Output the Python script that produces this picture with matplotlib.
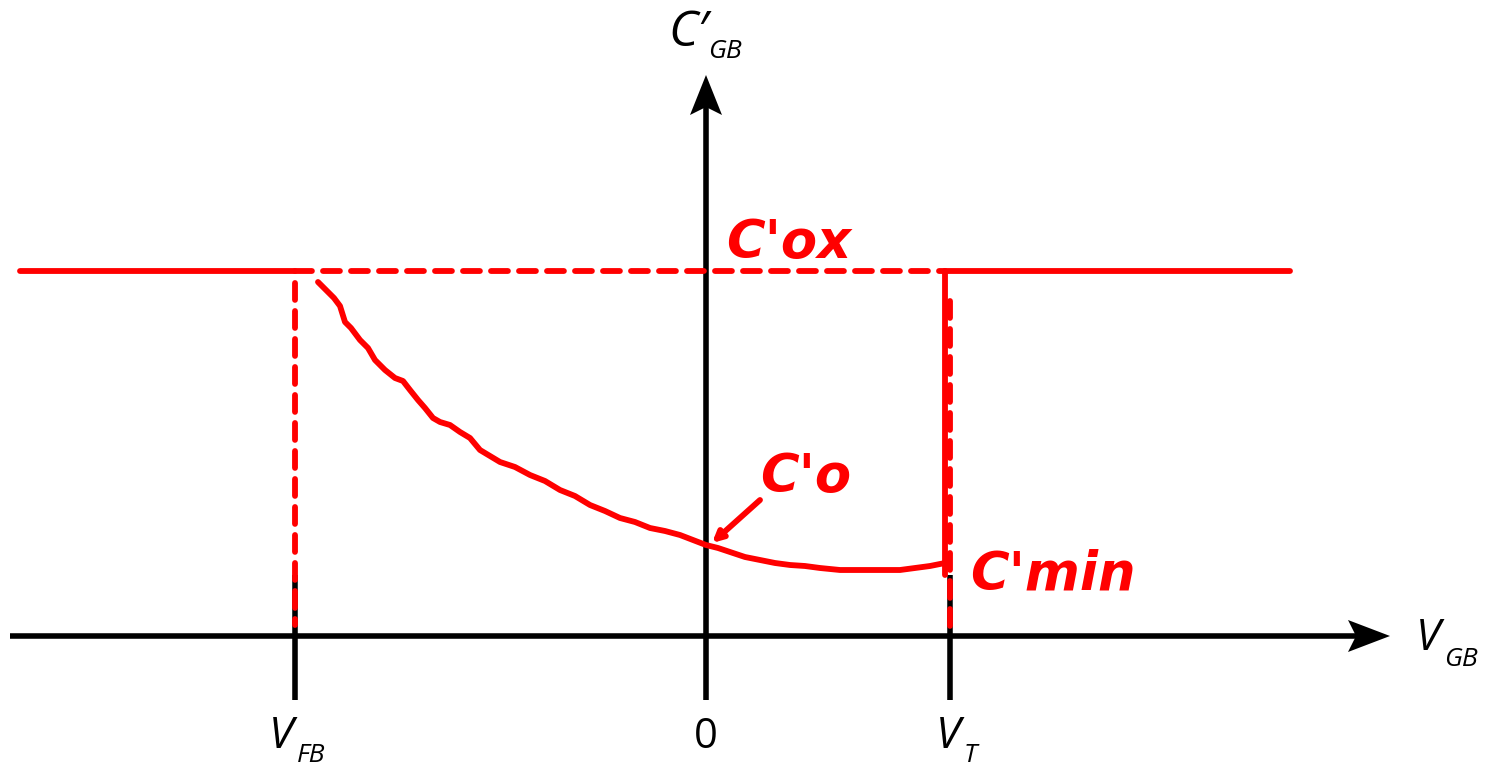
import matplotlib.pyplot as plt
from matplotlib.patches import Polygon

# gate voltages (arbitrary units) and capacitance levels
v_fb = -4.11
v_t = 2.44
c_ox = 3.65
c_min = 0.66

# low-frequency C'(V) curve between flat-band and threshold, hand-traced
curve_v = [-3.88, -3.80, -3.72, -3.66, -3.61, -3.55, -3.46, -3.38, -3.31, -3.21,
           -3.11, -3.03, -2.96, -2.88, -2.81, -2.73, -2.66, -2.56, -2.46, -2.36,
           -2.26, -2.16, -2.06, -1.91, -1.76, -1.61, -1.46, -1.31, -1.16, -1.01,
           -0.86, -0.71, -0.56, -0.41, -0.26, -0.13, 0.0, 0.12, 0.24, 0.39,
           0.54, 0.69, 0.84, 0.99, 1.14, 1.24, 1.34, 1.49, 1.64, 1.79,
           1.94, 2.09, 2.24, 2.39]
curve_c = [3.54, 3.46, 3.38, 3.30, 3.14, 3.08, 2.96, 2.88, 2.76, 2.66,
           2.58, 2.55, 2.46, 2.36, 2.28, 2.18, 2.14, 2.11, 2.04, 1.98,
           1.86, 1.80, 1.74, 1.69, 1.61, 1.55, 1.46, 1.40, 1.31, 1.25,
           1.18, 1.14, 1.08, 1.05, 1.01, 0.96, 0.91, 0.88, 0.84, 0.79,
           0.76, 0.73, 0.71, 0.70, 0.68, 0.67, 0.66, 0.66, 0.66, 0.66,
           0.66, 0.68, 0.70, 0.73]

red = '#ff0000'
lw_ax = 4.0
lw = 4.2

fig = plt.figure(figsize=(14.89, 7.66), dpi=100)
ax = fig.add_axes([0, 0, 1, 1])
ax.set_xlim(-7.06, 7.83)
ax.set_ylim(-1.30, 6.36)
ax.axis('off')

# axes with arrow heads (concave back)
ax.plot([-6.96, 6.6], [0, 0], color='black', lw=lw_ax, solid_capstyle='butt')
ax.add_patch(Polygon([(6.84, 0), (6.42, 0.16), (6.5, 0), (6.42, -0.16)],
                     closed=True, color='black', lw=0))
ax.plot([0, 0], [-0.64, 5.4], color='black', lw=lw_ax, solid_capstyle='butt')
ax.add_patch(Polygon([(0, 5.61), (0.16, 5.21), (0, 5.29), (-0.16, 5.21)],
                     closed=True, color='black', lw=0))

# ticks at V_FB and V_T
for v in (v_fb, v_t):
    ax.plot([v, v], [-0.64, 0.61], color='black', lw=lw_ax, solid_capstyle='butt')

dash = dict(color=red, lw=lw, linestyle=(0, (2.9, 1.9)), dash_capstyle='round')

# C'ox level: solid outside, dashed between V_FB and V_T
ax.plot([-6.86, v_fb], [c_ox, c_ox], color=red, lw=lw, solid_capstyle='round')
ax.plot([v_fb, v_t - 0.05], [c_ox, c_ox], **dash)
ax.plot([v_t - 0.05, 5.84], [c_ox, c_ox], color=red, lw=lw, solid_capstyle='round')

# verticals
ax.plot([v_fb, v_fb], [c_ox - 0.12, 0.11], **dash)
ax.plot([v_t - 0.05, v_t - 0.05], [c_ox, c_min - 0.05], color=red, lw=lw,
        solid_capstyle='round')
ax.plot([v_t, v_t], [c_ox - 0.3, 0.04], **dash)

# measured curve
ax.plot(curve_v, curve_c, color=red, lw=lw, solid_capstyle='round',
        solid_joinstyle='round')

# C'o pointer
ax.annotate('', xy=(0.06, 0.93), xytext=(0.54, 1.36),
            arrowprops=dict(arrowstyle='-|>,head_length=0.6,head_width=0.3',
                            color=red, lw=lw, shrinkA=0, shrinkB=0))

hand = dict(color=red, fontsize=38, fontweight='bold', style='italic',
            family='DejaVu Sans')
ax.text(0.2, 3.78, "C'ox", ha='left', va='baseline', **hand)
ax.text(0.54, 1.44, "C'o", ha='left', va='baseline', **hand)
ax.text(2.64, 0.47, "C'min", ha='left', va='baseline', **hand)

lab = dict(color='black', family='Open Sans', style='italic')
ax.text(-0.38, 5.9, "C\u2032", ha='left', va='baseline', fontsize=36, **lab)
ax.text(0.02, 5.78, "GB", ha='left', va='baseline', fontsize=19, **lab)
ax.text(7.1, -0.14, "V", ha='left', va='baseline', fontsize=32, **lab)
ax.text(7.38, -0.3, "GB", ha='left', va='baseline', fontsize=19, **lab)
ax.text(v_fb - 0.26, -1.12, "V", ha='left', va='baseline', fontsize=32, **lab)
ax.text(v_fb + 0.02, -1.26, "FB", ha='left', va='baseline', fontsize=19, **lab)
ax.text(v_t - 0.14, -1.12, "V", ha='left', va='baseline', fontsize=32, **lab)
ax.text(v_t + 0.14, -1.26, "T", ha='left', va='baseline', fontsize=19, **lab)
ax.text(0, -1.12, "0", ha='center', va='baseline', fontsize=30,
        color='black', family='Open Sans')

fig.savefig('out.png', dpi=100)
